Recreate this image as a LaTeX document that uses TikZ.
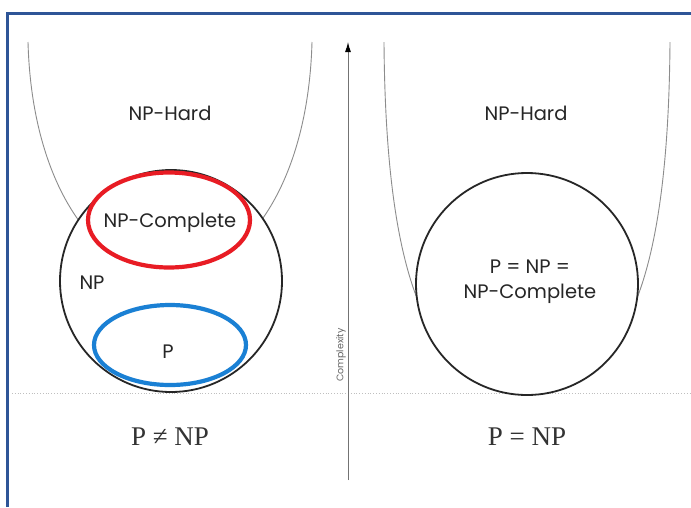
\documentclass[tikz,border=0pt]{standalone}
\usepackage{fontspec}
\setmainfont{Liberation Serif}
\newfontfamily\labelfont{Poppins}
\usetikzlibrary{shapes.geometric,arrows.meta}
\definecolor{frameblue}{RGB}{46,85,151}
\definecolor{npred}{RGB}{232,28,36}
\definecolor{pblue}{RGB}{26,128,212}
\begin{document}
\begin{tikzpicture}[x=1pt,y=-1pt,
  lbl/.style={font=\labelfont\fontsize{19.5}{25}\selectfont, text=black!85, inner sep=0pt},
  eqlbl/.style={font=\fontsize{27}{30}\selectfont, text=black!80, inner sep=0pt},
  ucurve/.style={draw=black!45, line width=0.9pt},
  setc/.style={circle, draw=black!85, line width=1.8pt, fill=white, minimum size=222pt, inner sep=0pt},
  ring/.style={ellipse, line width=4.2pt, fill=white, inner sep=0pt},
  axis/.style={draw=black!55, line width=1pt, -{Latex[length=10pt,width=6pt,color=black]}}]
\useasboundingbox (0,0) rectangle (691,507);
\fill[white] (0,0) rectangle (691,507);
% dotted baseline
\draw[dotted, black!25, line width=0.8pt] (12,393) -- (691,393);
% NP-hard boundaries
\draw[ucurve] (28,42) .. controls (32,190) and (100,275) .. (170,275) .. controls (240,275) and (308,190) .. (312,42);
\draw[ucurve] (384,42) .. controls (386,320) and (445,385) .. (527,385) .. controls (609,385) and (668,320) .. (670,42);
% sets
\node[setc] (np) at (171,281) {};
\node[setc] (eqset) at (527,284) {};
\node[ring, draw=npred, minimum width=162pt, minimum height=95pt] (npc) at (169,220) {};
\node[ring, draw=pblue, minimum width=152pt, minimum height=80pt] (p) at (170,345) {};
% labels
\node[lbl] (lhard) at (170,113) {NP-Hard};
\node[lbl] (lnpc) at (170,223) {NP-Complete};
\node[lbl] (lnp) at (92,283) {NP};
\node[lbl] (lp) at (168,352) {P};
\node[lbl] (rhard) at (526,113) {NP-Hard};
\node[lbl, align=center] (req) at (530,282) {P = NP =\\NP-Complete};
\node[eqlbl] (lneq) at (170,437) {P ≠ NP};
\node[eqlbl] (reqn) at (527,437) {P = NP};
% complexity axis
\coordinate (axb) at (348,480);
\coordinate (axt) at (348,42);
\draw[axis] (axb) -- (axt);
\node[rotate=90, font=\labelfont\fontsize{9.5}{11}\selectfont, text=black!60, inner sep=0pt] (cx) at (341,355) {Complexity};
% frame
\draw[frameblue, line width=3pt] (7,507) -- (7,13) -- (691,13);
\end{tikzpicture}
\end{document}
